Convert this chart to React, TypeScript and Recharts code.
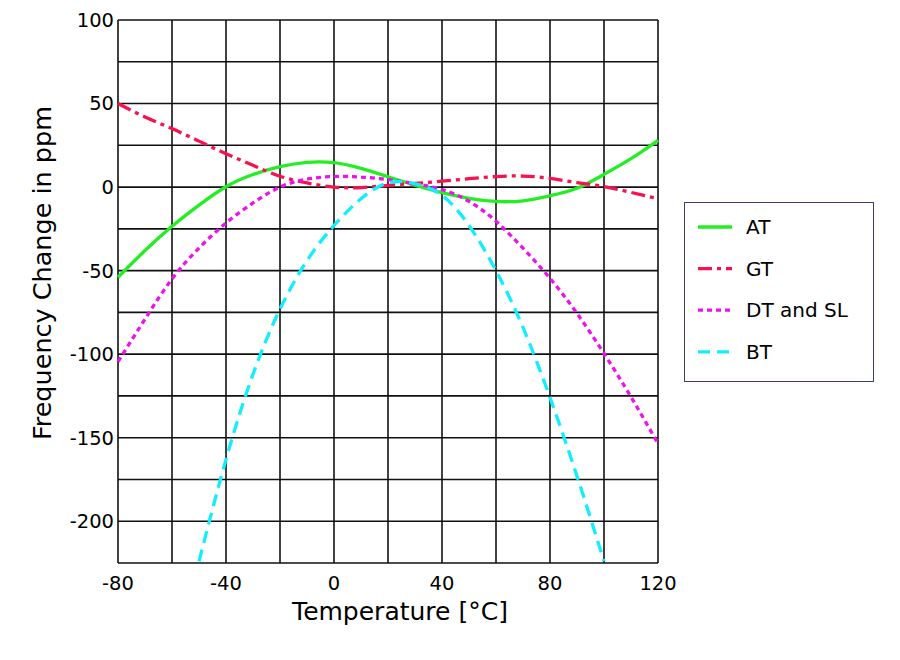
import React from 'react';
import { LineChart, Line, XAxis, YAxis, CartesianGrid, Legend } from 'recharts';

const temps = [-80, -70, -60, -50, -40, -30, -20, -10, 0, 10, 20, 30, 40, 50, 60, 70, 80, 90, 100, 110, 120];
const atValues = [-54, -38, -23.5, -10.8, 0.2, 7.5, 12.2, 14.8, 14.6, 11.2, 6.2, 1.2, -3.3, -6.7, -8.6, -8.2, -5.2, -0.7, 7.6, 17, 28];
const gtValues = [50, 42, 35, 27.5, 20, 13, 6.5, 2.5, 0, -0.3, 1, 2.2, 3.5, 5, 6.3, 6.6, 5.2, 2.7, 0.3, -3.2, -7];
const dtValues = [-104.5, -79, -55, -36.5, -21.5, -9.5, 0, 4.8, 6.3, 6, 4.5, 2, -1.5, -8.5, -20.5, -36.6, -54.6, -75.6, -99.6, -125.6, -153.5];
const btValues = [null, null, null, -224, -163, -112, -73, -44, -23, -7, 2.5, 2, -5, -23, -50, -84, -126, -173, -224, null, null];

const xTicks = [-80, -60, -40, -20, 0, 20, 40, 60, 80, 100, 120];
const xLabelTicks = [-80, -40, 0, 40, 80, 120];
const yTicks = [-225, -200, -175, -150, -125, -100, -75, -50, -25, 0, 25, 50, 75, 100];
const yLabelTicks = [-200, -150, -100, -50, 0, 50, 100];

const series = [
  { key: 'at', name: 'AT', color: '#22ee22', dash: undefined as string | undefined },
  { key: 'gt', name: 'GT', color: '#f8104f', dash: '14 5 4 5' },
  { key: 'dt', name: 'DT and SL', color: '#ee11ee', dash: '5 4' },
  { key: 'bt', name: 'BT', color: '#11eeff', dash: '12 7' },
];

const tableData = temps.map((t, i) => ({
  t,
  at: atValues[i],
  gt: gtValues[i],
  dt: dtValues[i],
  bt: btValues[i],
}));

const FONT = '"DejaVu Sans", sans-serif';

const LegendBox = () => (
  <div
    style={{
      width: 190,
      height: 180,
      boxSizing: 'border-box',
      border: '1.5px solid #3c3c78',
      position: 'relative',
    }}
  >
    <svg width={188} height={178} style={{ position: 'absolute', left: 0, top: 0 }}>
      {series.map((s, i) => {
        const cy = 24 + i * 41.6;
        return (
          <g key={s.key}>
            <line x1={13} x2={47} y1={cy} y2={cy} stroke={s.color} strokeWidth={3.3} strokeDasharray={s.dash} />
            <text x={61} y={cy} dy="0.35em" fontFamily={FONT} fontSize={20} fill="#000">
              {s.name}
            </text>
          </g>
        );
      })}
    </svg>
  </div>
);

export default function App() {
  return (
    <div style={{ position: 'absolute', left: 0, top: 0, width: 900, height: 660, fontFamily: FONT }}>
      <LineChart
        width={900}
        height={660}
        data={tableData}
        margin={{ top: 20, right: 242, left: 0, bottom: 0 }}
      >
        <CartesianGrid stroke="#111" strokeWidth={1.6} />
        <XAxis
          dataKey="t"
          type="number"
          domain={[-80, 120]}
          ticks={xTicks}
          interval={0}
          height={97}
          axisLine={false}
          tickLine={false}
          tickSize={0}
          tickMargin={13}
          tick={{ fill: '#000', fontSize: 19.5, fontFamily: FONT }}
          tickFormatter={(v: number) => (xLabelTicks.includes(v) ? String(v) : '')}
          label={{
            content: () => (
              <text x={400} y={620} textAnchor="middle" fontFamily={FONT} fontSize={25} fill="#000">
                Temperature [°C]
              </text>
            ),
          }}
        />
        <YAxis
          type="number"
          domain={[-225, 100]}
          ticks={yTicks}
          interval={0}
          width={118}
          axisLine={false}
          tickLine={false}
          tickSize={0}
          tickMargin={4}
          tick={{ fill: '#000', fontSize: 19.5, fontFamily: FONT }}
          tickFormatter={(v: number) => (yLabelTicks.includes(v) ? String(v) : '')}
          label={{
            content: () => (
              <text
                x={0}
                y={0}
                transform="translate(51,273) rotate(-90)"
                textAnchor="middle"
                fontFamily={FONT}
                fontSize={25.5}
                fill="#000"
              >
                Frequency Change in ppm
              </text>
            ),
          }}
        />
        {series.map((s) => (
          <Line
            key={s.key}
            dataKey={s.key}
            name={s.name}
            type="natural"
            stroke={s.color}
            strokeWidth={3.3}
            strokeDasharray={s.dash}
            dot={false}
            activeDot={false}
            isAnimationActive={false}
          />
        ))}
        <Legend
          layout="vertical"
          align="center"
          verticalAlign="middle"
          wrapperStyle={{ left: 684, top: 202, width: 190, height: 180 }}
          content={() => <LegendBox />}
        />
      </LineChart>
    </div>
  );
}
